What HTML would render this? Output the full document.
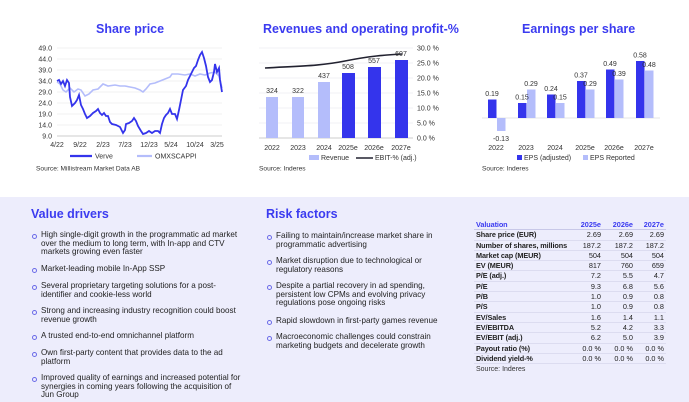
<!DOCTYPE html>
<html><head><meta charset="utf-8"><style>
body{margin:0;width:689px;height:402px;position:relative;overflow:hidden;background:#fff;font-family:"Liberation Sans",Arial,sans-serif;color:#1a1a2a}
.t{position:absolute;font-weight:bold;color:#3b3bf0;font-size:12.5px;white-space:nowrap}
.bg{position:absolute;left:0;top:197px;width:689px;height:205px;background:#ededfc}
.b{position:absolute;font-size:8.1px;line-height:8.7px;color:#222}
.b:before{content:"";position:absolute;left:-9px;top:2.5px;width:3px;height:3px;border:1px solid #6a6ae8;border-radius:50%}
table{position:absolute;left:474px;top:220px;border-collapse:collapse;font-size:7.3px;table-layout:fixed;width:192px}
td{height:9.3px;line-height:9.3px;padding:0 2px;border-bottom:1px solid #dcdcf0;text-align:right;color:#222;white-space:nowrap;overflow:visible}
td:first-child{text-align:left;font-weight:bold;letter-spacing:-0.1px}
tr.h td{color:#3b3bf0;font-weight:bold;border-bottom:1px solid #c8c8e8}
</style></head><body>
<div class="t" style="left:96px;top:22px">Share price</div>
<div class="t" style="left:263px;top:22px">Revenues and operating profit-%</div>
<div class="t" style="left:522px;top:22px">Earnings per share</div>
<svg style="position:absolute;left:0;top:0" width="689" height="190" font-family="Liberation Sans,Arial,sans-serif" font-size="7" fill="#333">
<g stroke="#e2e2e2" stroke-width="0.6">
<line x1="57" x2="222" y1="48" y2="48"/><line x1="57" x2="222" y1="59" y2="59"/><line x1="57" x2="222" y1="70" y2="70"/><line x1="57" x2="222" y1="81" y2="81"/><line x1="57" x2="222" y1="92" y2="92"/><line x1="57" x2="222" y1="103" y2="103"/><line x1="57" x2="222" y1="114" y2="114"/><line x1="57" x2="222" y1="125" y2="125"/></g>
<line x1="57" x2="222" y1="136" y2="136" stroke="#999" stroke-width="0.6"/>
<g text-anchor="end"><text x="52" y="50.5">49.0</text><text x="52" y="61.5">44.0</text><text x="52" y="72.5">39.0</text><text x="52" y="83.5">34.0</text><text x="52" y="94.5">29.0</text><text x="52" y="105.5">24.0</text><text x="52" y="116.5">19.0</text><text x="52" y="127.5">14.0</text><text x="52" y="138.5">9.0</text></g>
<g text-anchor="middle"><text x="57" y="147">4/22</text><text x="80" y="147">9/22</text><text x="103" y="147">2/23</text><text x="125" y="147">7/23</text><text x="149" y="147">12/23</text><text x="171" y="147">5/24</text><text x="195" y="147">10/24</text><text x="217" y="147">3/25</text></g>
<polyline fill="none" stroke="#b4bdfb" stroke-width="1.6" points="57,82 60,84 63,90 66,92 70,88 74,92 78,89 81,90 85,96 89,94 93,90 98,89 103,84 108,86 115,85 120,86 125,86 130,87 135,88 140,90 143,92 146,89 150,84 155,83 160,81 165,79 170,77 172,74 178,74 185,75 190,74 195,76 200,74 205,75 210,73 215,72 219,76 222,88"/>
<polyline fill="none" stroke="#3434ec" stroke-width="1.8" points="57,81 59,80 61,84 63,81 65,86 67,80 69,83 70,97 72,106 75,103 77,100 79,95 81,105 83,109 85,114 87,118 90,116 93,113 96,111 98,109 100,113 102,115 104,113 106,116 108,116 110,122 112,124 116,125 120,127 123,133 125,130 126,124 129,123 132,121 134,118 136,121 138,126 141,131 143,134 146,133 149,131 152,133 155,131 158,131 160,133 162,124 164,118 166,115 168,113 170,109 172,114 175,114 177,119 179,110 181,100 183,90 186,86 188,80 190,76 192,72 194,68 196,66 198,60 200,55 202,52 204,58 206,66 208,77 210,82 212,80 214,72 215,64 217,72 219,68 220,80 222,92"/>
<line x1="70" x2="92" y1="156" y2="156" stroke="#3434ec" stroke-width="2.2"/><text x="95" y="158.5">Verve</text>
<line x1="137" x2="152" y1="156" y2="156" stroke="#b4bdfb" stroke-width="2.2"/><text x="155" y="158.5">OMXSCAPPI</text>
<text x="36" y="170.5" font-size="6.6">Source: Millistream Market Data AB</text>
<g stroke="#e2e2ee" stroke-width="0.6">
<line x1="259" x2="413" y1="48" y2="48"/><line x1="259" x2="413" y1="63" y2="63"/><line x1="259" x2="413" y1="78" y2="78"/><line x1="259" x2="413" y1="93" y2="93"/><line x1="259" x2="413" y1="108" y2="108"/><line x1="259" x2="413" y1="123" y2="123"/></g>
<line x1="259" x2="413" y1="138" y2="138" stroke="#999" stroke-width="0.6"/>
<g><text x="417" y="50.5">30.0 %</text><text x="417" y="65.5">25.0 %</text><text x="417" y="80.5">20.0 %</text><text x="417" y="95.5">15.0 %</text><text x="417" y="110.5">10.0 %</text><text x="417" y="125.5">5.0 %</text><text x="417" y="140.5">0.0 %</text></g>
<g fill="#b4bdfb"><rect x="266" y="97" width="12" height="41"/><rect x="292" y="97" width="12" height="41"/><rect x="318" y="82" width="12" height="56"/></g>
<g fill="#3434ec"><rect x="342" y="73" width="13" height="65"/><rect x="368" y="67" width="13" height="71"/><rect x="395" y="60" width="13" height="78"/></g>
<path d="M265,68 C300,66 320,66 345,61 C370,56 385,55 402,54" fill="none" stroke="#222230" stroke-width="1.6"/>
<g text-anchor="middle"><text x="272" y="93">324</text><text x="298" y="93">322</text><text x="324" y="78">437</text><text x="348" y="69">508</text><text x="374" y="63">557</text><text x="401" y="56">607</text>
<text x="272" y="150">2022</text><text x="298" y="150">2023</text><text x="324" y="150">2024</text><text x="348" y="150">2025e</text><text x="374" y="150">2026e</text><text x="401" y="150">2027e</text></g>
<rect x="309" y="155" width="10" height="5" fill="#b4bdfb"/><text x="321" y="160">Revenue</text>
<line x1="356" x2="373" y1="158" y2="158" stroke="#222230" stroke-width="1.6"/><text x="375" y="160">EBIT-% (adj.)</text>
<text x="259" y="170.5" font-size="6.6">Source: Inderes</text>
<line x1="482" x2="660" y1="118" y2="118" stroke="#ddd" stroke-width="0.8"/>
<g fill="#3434ec"><rect x="488" y="99.5" width="8.5" height="18.5"/><rect x="518" y="103" width="8.5" height="15"/><rect x="547" y="94.5" width="8.5" height="23.5"/><rect x="577" y="81" width="8.5" height="37"/><rect x="606" y="69.5" width="8.5" height="48.5"/><rect x="636" y="61" width="8.5" height="57"/></g>
<g fill="#b4bdfb"><rect x="497" y="118" width="8.5" height="13"/><rect x="527" y="89.5" width="8.5" height="28.5"/><rect x="556" y="103" width="8.5" height="15"/><rect x="586" y="89.5" width="8.5" height="28.5"/><rect x="615" y="79.5" width="8.5" height="38.5"/><rect x="645" y="70.5" width="8.5" height="47.5"/></g>
<g text-anchor="middle"><text x="492" y="96">0.19</text><text x="501" y="141">-0.13</text><text x="522" y="99.5">0.15</text><text x="531" y="86">0.29</text><text x="551" y="91">0.24</text><text x="560" y="99.5">0.15</text><text x="581" y="77.5">0.37</text><text x="590" y="86">0.29</text><text x="610" y="66">0.49</text><text x="619" y="76">0.39</text><text x="640" y="57.5">0.58</text><text x="649" y="67">0.48</text>
<text x="496" y="150">2022</text><text x="526" y="150">2023</text><text x="555" y="150">2024</text><text x="585" y="150">2025e</text><text x="614" y="150">2026e</text><text x="644" y="150">2027e</text></g>
<rect x="517" y="155" width="5" height="5" fill="#3434ec"/><text x="524" y="160">EPS (adjusted)</text>
<rect x="583" y="155" width="5" height="5" fill="#b4bdfb"/><text x="590" y="160">EPS Reported</text>
<text x="482" y="170.5" font-size="6.6">Source: Inderes</text>
</svg>
<div class="bg"></div>
<div class="t" style="left:31px;top:207px">Value drivers</div>
<div class="t" style="left:266px;top:207px">Risk factors</div>
<div class="b" style="left:41px;top:231px;width:205px">High single-digit growth in the programmatic ad market over the medium to long term, with In-app and CTV markets growing even faster</div>
<div class="b" style="left:41px;top:265px;width:205px">Market-leading mobile In-App SSP</div>
<div class="b" style="left:41px;top:282px;width:205px">Several proprietary targeting solutions for a post-identifier and cookie-less world</div>
<div class="b" style="left:41px;top:307px;width:205px">Strong and increasing industry recognition could boost revenue growth</div>
<div class="b" style="left:41px;top:332px;width:205px">A trusted end-to-end omnichannel platform</div>
<div class="b" style="left:41px;top:349px;width:205px">Own first-party content that provides data to the ad platform</div>
<div class="b" style="left:41px;top:374px;width:205px">Improved quality of earnings and increased potential for synergies in coming years following the acquisition of Jun Group</div>
<div class="b" style="left:276px;top:232px;width:175px">Failing to maintain/increase market share in programmatic advertising</div>
<div class="b" style="left:276px;top:257px;width:175px">Market disruption due to technological or regulatory reasons</div>
<div class="b" style="left:276px;top:282px;width:175px">Despite a partial recovery in ad spending, persistent low CPMs and evolving privacy regulations pose ongoing risks</div>
<div class="b" style="left:276px;top:317px;width:180px">Rapid slowdown in first-party games revenue</div>
<div class="b" style="left:276px;top:333px;width:175px">Macroeconomic challenges could constrain marketing budgets and decelerate growth</div>
<table>
<colgroup><col style="width:96px"><col style="width:33px"><col style="width:32px"><col style="width:31px"></colgroup>
<tr class="h"><td>Valuation</td><td>2025e</td><td>2026e</td><td>2027e</td></tr>
<tr><td>Share price (EUR)</td><td>2.69</td><td>2.69</td><td>2.69</td></tr>
<tr><td>Number of shares, millions</td><td>187.2</td><td>187.2</td><td>187.2</td></tr>
<tr><td>Market cap (MEUR)</td><td>504</td><td>504</td><td>504</td></tr>
<tr><td>EV (MEUR)</td><td>817</td><td>760</td><td>659</td></tr>
<tr><td>P/E (adj.)</td><td>7.2</td><td>5.5</td><td>4.7</td></tr>
<tr><td>P/E</td><td>9.3</td><td>6.8</td><td>5.6</td></tr>
<tr><td>P/B</td><td>1.0</td><td>0.9</td><td>0.8</td></tr>
<tr><td>P/S</td><td>1.0</td><td>0.9</td><td>0.8</td></tr>
<tr><td>EV/Sales</td><td>1.6</td><td>1.4</td><td>1.1</td></tr>
<tr><td>EV/EBITDA</td><td>5.2</td><td>4.2</td><td>3.3</td></tr>
<tr><td>EV/EBIT (adj.)</td><td>6.2</td><td>5.0</td><td>3.9</td></tr>
<tr><td>Payout ratio (%)</td><td>0.0 %</td><td>0.0 %</td><td>0.0 %</td></tr>
<tr><td>Dividend yield-%</td><td>0.0 %</td><td>0.0 %</td><td>0.0 %</td></tr>
</table>
<div style="position:absolute;left:476px;top:366px;font-size:7px;color:#333">Source: Inderes</div>
</body></html>
